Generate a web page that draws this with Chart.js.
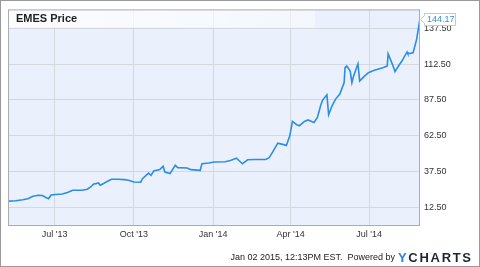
<!DOCTYPE html>
<html>
<head>
<meta charset="utf-8">
<script src="https://cdn.jsdelivr.net/npm/chart.js@4"></script>
<style>
  html, body { margin: 0; padding: 0; background: #fff; }
  #wrap { width: 480px; height: 267px; }
</style>
</head>
<body>
<div id="wrap"><canvas id="myChartPrice" width="480" height="267"></canvas></div>
<script>
// EMES closing price
const dates = [
  '2013-05-09','2013-05-17','2013-05-25','2013-05-31','2013-06-06','2013-06-12','2013-06-17','2013-06-21','2013-06-24','2013-06-27',
  '2013-07-02','2013-07-10','2013-07-16','2013-07-22','2013-07-26','2013-08-02','2013-08-08','2013-08-12','2013-08-15','2013-08-21',
  '2013-08-23','2013-08-27','2013-08-30','2013-09-05','2013-09-13','2013-09-20','2013-09-25','2013-10-01','2013-10-09','2013-10-11',
  '2013-10-18','2013-10-21','2013-10-24','2013-10-31','2013-11-04','2013-11-06','2013-11-12','2013-11-18','2013-11-21','2013-12-02',
  '2013-12-06','2013-12-17','2013-12-19','2013-12-27','2014-01-02','2014-01-15','2014-01-21','2014-01-28','2014-01-31','2014-02-04',
  '2014-02-10','2014-02-18','2014-03-03','2014-03-07','2014-03-11','2014-03-17','2014-03-25','2014-03-27','2014-03-31','2014-04-03',
  '2014-04-08','2014-04-11','2014-04-17','2014-04-21','2014-04-28','2014-05-02','2014-05-06','2014-05-08','2014-05-13','2014-05-15',
  '2014-05-19','2014-05-23','2014-05-28','2014-06-02','2014-06-03','2014-06-05','2014-06-09','2014-06-11','2014-06-13','2014-06-18',
  '2014-06-20','2014-06-26','2014-06-30','2014-07-07','2014-07-11','2014-07-17','2014-07-22','2014-07-23','2014-07-28','2014-07-31',
  '2014-08-04','2014-08-08','2014-08-14','2014-08-15','2014-08-21','2014-08-25','2014-08-29'
];
const prices = [
  16.7, 16.9, 17.6, 18.3, 20.1, 20.8, 20.6, 19.2, 18.3, 21.0,
  21.3, 21.7, 22.7, 24.3, 24.3, 24.3, 25.0, 26.6, 28.5, 29.4,
  27.8, 29.0, 30.1, 32.0, 32.0, 31.7, 31.3, 30.1, 29.9, 32.4,
  36.3, 34.7, 37.7, 38.7, 41.0, 37.0, 35.9, 41.7, 40.1, 39.8,
  38.7, 38.2, 42.8, 43.3, 44.0, 44.2, 45.1, 46.7, 45.1, 42.8,
  45.6, 45.8, 45.8, 47.0, 50.9, 57.2, 56.0, 55.6, 62.5, 72.4,
  70.1, 69.4, 72.4, 73.4, 71.7, 75.2, 84.0, 87.3, 91.0, 77.1,
  83.3, 88.0, 91.5, 99.5, 110.0, 111.1, 107.6, 99.5, 104.2, 112.7,
  100.7, 104.2, 106.5, 108.1, 108.8, 109.9, 111.1, 119.7, 112.3, 107.2,
  111.1, 114.6, 121.0, 119.7, 120.4, 129.6, 144.17
];
const xTickDates = ['2013-07-01', '2013-10-01', '2014-01-01', '2014-04-01', '2014-07-01'];
const xTickLabels = ["Jul '13", "Oct '13", "Jan '14", "Apr '14", "Jul '14"];
const yTickValues = [12.5, 37.5, 62.5, 87.5, 112.5, 137.5];

const DAY = 86400000;
const toDay = s => Date.parse(s) / DAY;
const xTicks = xTickDates.map(toDay);
const points = dates.map((d, i) => ({ x: toDay(d), y: prices[i] }));
const lastPrice = prices[prices.length - 1];

Chart.defaults.font.family = "'Liberation Sans', Arial, sans-serif";

const decor = {
    id: 'decor',
    beforeDraw(chart) {
        const { ctx, chartArea: a } = chart;
        ctx.save();
        ctx.fillStyle = '#fff';
        ctx.fillRect(0, 0, chart.width, chart.height);
        ctx.fillStyle = '#eaf1fc';
        ctx.fillRect(a.left, a.top, a.right - a.left, a.bottom - a.top);
        ctx.restore();
    },
    beforeDatasetsDraw(chart) {
        const { ctx, chartArea: a } = chart;
        ctx.save();
        // title band
        const g = ctx.createLinearGradient(a.left, 0, 315, 0);
        g.addColorStop(0, 'rgba(255,255,255,0.8)');
        g.addColorStop(1, 'rgba(255,255,255,0.45)');
        ctx.fillStyle = g;
        ctx.fillRect(a.left, a.top, 315 - a.left, 18);
        ctx.fillStyle = '#222';
        ctx.font = "bold 11px 'Liberation Sans', Arial";
        ctx.textBaseline = 'alphabetic';
        ctx.fillText('EMES Price', 16, 22);
        ctx.restore();
    },
    afterDraw(chart) {
        const { ctx, chartArea: a, scales } = chart;
        ctx.save();
        // plot frame
        ctx.strokeStyle = '#a9acb0';
        ctx.lineWidth = 1;
        ctx.strokeRect(a.left + 0.5, a.top + 0.5, a.right - a.left - 1, a.bottom - a.top - 1);
        // outer border
        ctx.strokeStyle = '#999';
        ctx.strokeRect(0.5, 0.5, chart.width - 1, chart.height - 1);

        // last value flag
        const yy = Math.round(scales.y.getPixelForValue(lastPrice)) + 0.5;
        const bx = a.right + 4;
        ctx.fillStyle = '#fff';
        ctx.strokeStyle = '#c8c8c8';
        ctx.beginPath();
        ctx.moveTo(a.right + 0.5, yy);
        ctx.lineTo(bx + 0.5, yy - 4);
        ctx.lineTo(bx + 0.5, yy - 6);
        ctx.lineTo(bx + 31.5, yy - 6);
        ctx.lineTo(bx + 31.5, yy + 6);
        ctx.lineTo(bx + 0.5, yy + 6);
        ctx.lineTo(bx + 0.5, yy + 4);
        ctx.closePath();
        ctx.fill();
        ctx.stroke();
        ctx.fillStyle = '#3a8ee6';
        ctx.font = "9px 'Liberation Sans', Arial";
        ctx.textBaseline = 'middle';
        ctx.fillText(lastPrice.toFixed(2), bx + 3, yy);

        // footer
        ctx.textBaseline = 'alphabetic';
        ctx.fillStyle = '#222';
        ctx.textAlign = 'right';
        ctx.font = "9px 'Liberation Sans', Arial";
        ctx.fillText('Jan 02 2015, 12:13PM EST.  Powered by', 395, 260);
        ctx.textAlign = 'left';
        ctx.font = "bold 13px 'Liberation Sans', Arial";
        ctx.letterSpacing = '1.7px';
        ctx.fillStyle = '#2f7fe0';
        ctx.fillText('Y', 398, 262);
        const w = ctx.measureText('Y').width;
        ctx.fillStyle = '#1d2633';
        ctx.fillText('CHARTS', 398 + w, 262);
        ctx.restore();
    }
};

const ctxPrice = document.getElementById('myChartPrice').getContext('2d');
const myChartPrice = new Chart(ctxPrice, {
    type: 'line',
    data: {
        datasets: [{
            label: 'EMES Price',
            data: points,
            borderColor: '#2b8de8',
            borderWidth: 1.6,
            pointRadius: 0,
            fill: false,
            tension: 0
        }]
    },
    options: {
        responsive: false,
        animation: false,
        layout: { padding: { left: 8, top: 8, right: 0, bottom: 0 } },
        plugins: { legend: { display: false }, tooltip: { enabled: false } },
        scales: {
            x: {
                type: 'linear',
                min: toDay('2013-05-08'),
                max: toDay('2014-08-29'),
                afterBuildTicks: s => { s.ticks = xTicks.map(v => ({ value: v })); },
                afterFit: s => { s.height = 41; },
                grid: { color: '#d5d9df', drawTicks: false },
                border: { display: false },
                ticks: {
                    padding: 3,
                    color: '#333',
                    font: { size: 9 },
                    maxRotation: 0,
                    callback: v => xTickLabels[xTicks.indexOf(v)]
                }
            },
            y: {
                position: 'right',
                min: -0.7,
                max: 150.7,
                afterBuildTicks: s => { s.ticks = yTickValues.map(v => ({ value: v })); },
                afterFit: s => { s.width = 60; },
                grid: { color: '#d5d9df', drawTicks: false },
                border: { display: false },
                ticks: {
                    padding: 4,
                    color: '#333',
                    font: { size: 9 },
                    callback: v => v.toFixed(2)
                }
            }
        }
    },
    plugins: [decor]
});
</script>
</body>
</html>
